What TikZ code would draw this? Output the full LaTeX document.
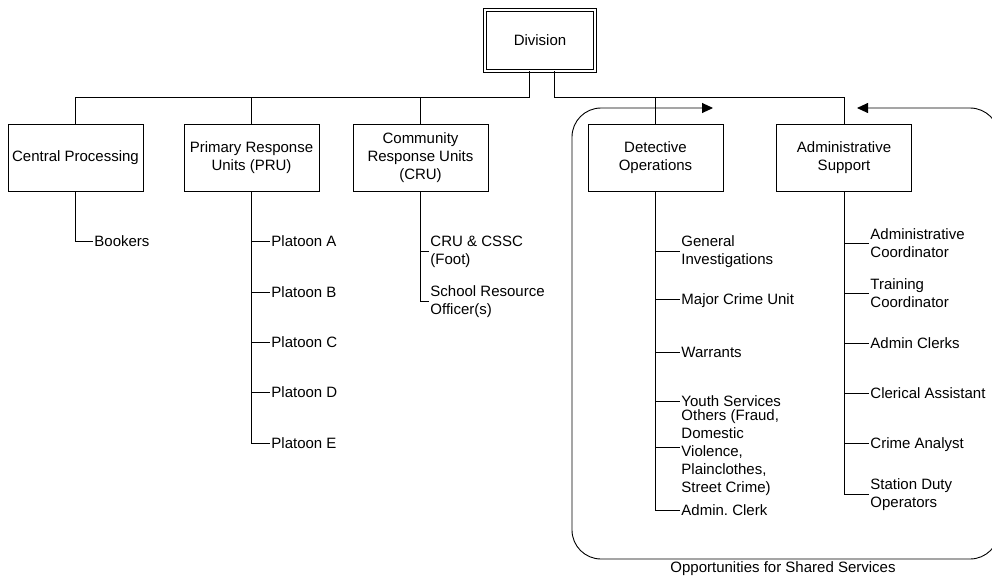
\documentclass[tikz,border=0pt]{standalone}
\usepackage{fontspec}
\setmainfont{Liberation Sans}
\usetikzlibrary{arrows.meta}
\begin{document}
\begin{tikzpicture}[x=1pt,y=-1pt,
  font=\fontsize{15}{18}\selectfont,
  line width=0.9pt,
  unit/.style={draw, minimum width=135pt, minimum height=67pt, align=center, inner sep=2pt},
  leaf/.style={anchor=west, inner sep=1pt, text height=13pt, text depth=2.3pt},
  multileaf/.style={anchor=west, inner sep=1pt, align=left},
  shared/.style={rounded corners=29pt,
    {Triangle[length=11pt,width=10pt]}-{Triangle[length=11pt,width=10pt]}}
]
\useasboundingbox[clip] (0,0) rectangle (992,576);

% head of the division
\node[draw, double, double distance=2pt, line width=0.8pt,
      minimum width=110pt, minimum height=61pt] (div) at (540,40.5) {Division};

% sections
\node[unit] (cp)  at (75.5,157.5)  {Central Processing};
\node[unit] (pru) at (251.5,157.5) {Primary Response\\Units (PRU)};
\node[unit] (cru) at (420.5,157.5) {Community\\Response Units\\(CRU)};
\node[unit] (det) at (655.5,157.5) {Detective\\Operations};
\node[unit] (adm) at (844,157.5)   {Administrative\\Support};

% bus from the division to the sections
\coordinate (jL) at ([xshift=-11pt]div.south);
\coordinate (jR) at ([xshift=14pt]div.south);
\coordinate (bus) at ([yshift=26pt]cp.north);
\foreach \s in {cp,pru,cru} \draw (jL) -- (jL |- bus) -| (\s.north);
\foreach \s in {det,adm} \draw (jR) -- (jR |- bus) -| (\s.north);

% Central Processing
\node[leaf] (bk) at (93,241) {Bookers};
\draw (cp.south) |- (bk.west);

% Primary Response Units
\node[leaf] (pa) at (270,241) {Platoon A};
\node[leaf] (pb) at (270,292) {Platoon B};
\node[leaf] (pc) at (270,342) {Platoon C};
\node[leaf] (pd) at (270,392) {Platoon D};
\node[leaf] (pe) at (270,443) {Platoon E};
\foreach \c in {pa,pb,pc,pd,pe} \draw (pru.south) |- (\c.west);

% Community Response Units
\node[multileaf] (cs) at (429,251.5) {CRU \& CSSC\\(Foot)};
\node[multileaf] (sr) at (429,301.5) {School Resource\\Officer(s)};
\foreach \c in {cs,sr} \draw (cru.south) |- (\c.west);

% Detective Operations
\node[multileaf] (gi) at (680,251.5) {General\\Investigations};
\node[leaf] (mc) at (680,299) {Major Crime Unit};
\node[leaf] (wa) at (680,352) {Warrants};
\node[leaf] (ys) at (680,401) {Youth Services};
\node[multileaf] (oth) at (680,452.5) {Others (Fraud,\\Domestic\\Violence,\\Plainclothes,\\Street Crime)};
\node[leaf] (ac) at (680,510) {Admin.\ Clerk};
\foreach \c in {gi,mc,wa,ys,ac} \draw (det.south) |- (\c.west);
\draw (det.south) |- ([yshift=5pt]oth.west);

% Administrative Support
\node[multileaf] (aco) at (869,243.5) {Administrative\\Coordinator};
\node[multileaf] (tco) at (869,293.5) {Training\\Coordinator};
\node[leaf] (acl) at (869,343) {Admin Clerks};
\node[leaf] (cla) at (869,393) {Clerical Assistant};
\node[leaf] (can) at (869,443) {Crime Analyst};
\node[multileaf] (sdo) at (869,494.5) {Station Duty\\Operators};
\foreach \c in {aco,tco,acl,cla,can,sdo} \draw (adm.south) |- (\c.west);

% shared services frame
\draw[shared] (713,108) -- (572,108) -- (572,559) -- (999,559) -- (999,108) -- (857,108);
\node (caption) at (783,569) {Opportunities for Shared Services};
\end{tikzpicture}
\end{document}
